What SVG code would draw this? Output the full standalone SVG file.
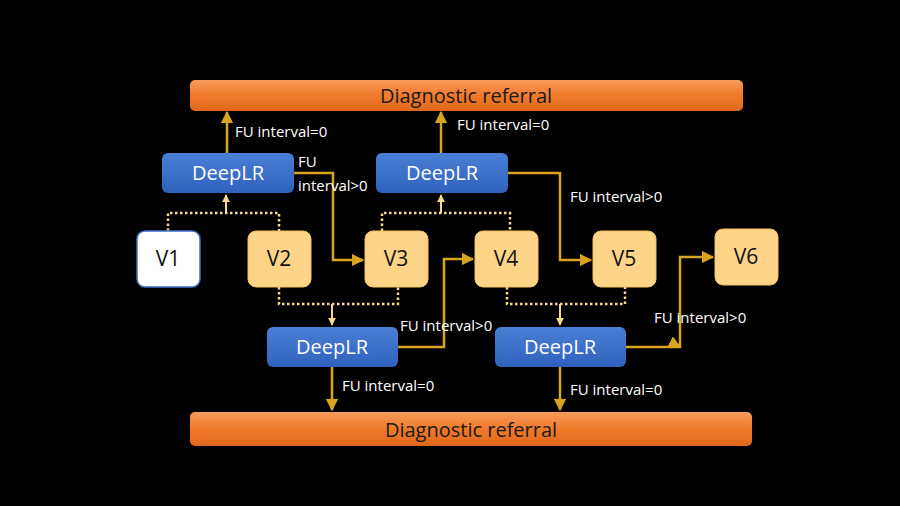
<svg xmlns="http://www.w3.org/2000/svg" width="900" height="506" viewBox="0 0 900 506">
<defs>
<linearGradient id="og" x1="0" y1="0" x2="0" y2="1"><stop offset="0" stop-color="#f79b5c"/><stop offset="0.5" stop-color="#f07a2a"/><stop offset="1" stop-color="#e0681c"/></linearGradient>
<linearGradient id="bg" x1="0" y1="0" x2="0" y2="1"><stop offset="0" stop-color="#4a7fd6"/><stop offset="1" stop-color="#2f62bd"/></linearGradient>
<marker id="a" viewBox="0 0 10 10" refX="9" refY="5" markerWidth="5" markerHeight="5" orient="auto"><path d="M0,0L10,5L0,10z" fill="#d9a520"/></marker>
<marker id="ad" viewBox="0 0 10 10" refX="9" refY="5" markerWidth="4" markerHeight="4" orient="auto"><path d="M0,0L10,5L0,10z" fill="#f5d98c"/></marker>
</defs>
<style>
text{font-family:"Open Sans","Liberation Sans",sans-serif}
.bar{fill:url(#og)}
.bt{font-size:20px;fill:#1a1a1a;text-anchor:middle}
.dl{fill:url(#bg)}
.dt{font-size:20px;fill:#fff;text-anchor:middle}
.v{fill:#fdd488;stroke:#f5c060;stroke-width:1}
.vt{font-size:21px;fill:#111;text-anchor:middle}
.c{fill:none;stroke:#d9a520;stroke-width:2.5;marker-end:url(#a)}
.d{fill:none;stroke:#f5d98c;stroke-width:2.5;stroke-dasharray:2.5 2.5}
.dh{fill:none;stroke:#f5d98c;stroke-width:2;marker-end:url(#ad)}
.l{font-size:15px;fill:#fff}
</style>
<rect width="900" height="506" fill="#000"/>
<g id="connectors">
<path class="c" d="M227,153V112"/>
<path class="c" d="M294,173H333V260H363"/>
<path class="c" d="M441,153V112"/>
<path class="c" d="M508,173H560V260H591"/>
<path class="c" d="M398,347H444V259H473"/>
<path class="c" d="M332,367V410"/>
<path class="c" d="M680,347"/>
<path class="c" d="M626,347H680V257H713"/>
<path class="c" d="M560,367V410"/>
<path class="d" d="M168,231V213H279V231"/><path class="dh" d="M226,213V195"/>
<path class="d" d="M382,231V213H510V231"/><path class="dh" d="M441,213V195"/>
<path class="d" d="M279,287V304H398V287"/><path class="dh" d="M332,304V325"/>
<path class="d" d="M507,287V304H625V287"/><path class="dh" d="M560,304V325"/>
<text class="l" x="235" y="137">FU interval=0</text>
<text class="l" x="298" y="167">FU</text>
<text class="l" x="298" y="191">interval&gt;0</text>
<text class="l" x="457" y="130">FU interval=0</text>
<text class="l" x="570" y="202">FU interval&gt;0</text>
<text class="l" x="400" y="331">FU interval&gt;0</text>
<text class="l" x="342" y="391">FU interval=0</text>
<text class="l" x="654" y="323">FU interval&gt;0</text>
<text class="l" x="570" y="395">FU interval=0</text>
</g>
<g id="top"><rect class="bar" x="190" y="80" width="553" height="31" rx="5"/><text class="bt" x="466" y="103">Diagnostic referral</text></g>
<g id="bottom"><rect class="bar" x="190" y="412" width="562" height="34" rx="5"/><text class="bt" x="471" y="437">Diagnostic referral</text></g>
<g id="d1"><rect class="dl" x="162" y="153" width="132" height="40" rx="6"/><text class="dt" x="228" y="180">DeepLR</text></g>
<g id="d2"><rect class="dl" x="376" y="153" width="132" height="40" rx="6"/><text class="dt" x="442" y="180">DeepLR</text></g>
<g id="d3"><rect class="dl" x="267" y="327" width="131" height="40" rx="6"/><text class="dt" x="332" y="354">DeepLR</text></g>
<g id="d4"><rect class="dl" x="495" y="327" width="131" height="40" rx="6"/><text class="dt" x="560" y="354">DeepLR</text></g>
<g id="v1"><rect x="137" y="231" width="63" height="56" rx="8" fill="#fff" stroke="#3f6fc6" stroke-width="1.5"/><text class="vt" x="168" y="266">V1</text></g>
<g id="v2"><rect class="v" x="248" y="231" width="63" height="56" rx="8"/><text class="vt" x="279" y="266">V2</text></g>
<g id="v3"><rect class="v" x="365" y="231" width="63" height="56" rx="8"/><text class="vt" x="396" y="266">V3</text></g>
<g id="v4"><rect class="v" x="475" y="231" width="63" height="56" rx="8"/><text class="vt" x="506" y="266">V4</text></g>
<g id="v5"><rect class="v" x="593" y="231" width="63" height="56" rx="8"/><text class="vt" x="624" y="266">V5</text></g>
<g id="v6"><rect class="v" x="715" y="229" width="63" height="56" rx="8"/><text class="vt" x="746" y="264">V6</text></g>
</svg>
